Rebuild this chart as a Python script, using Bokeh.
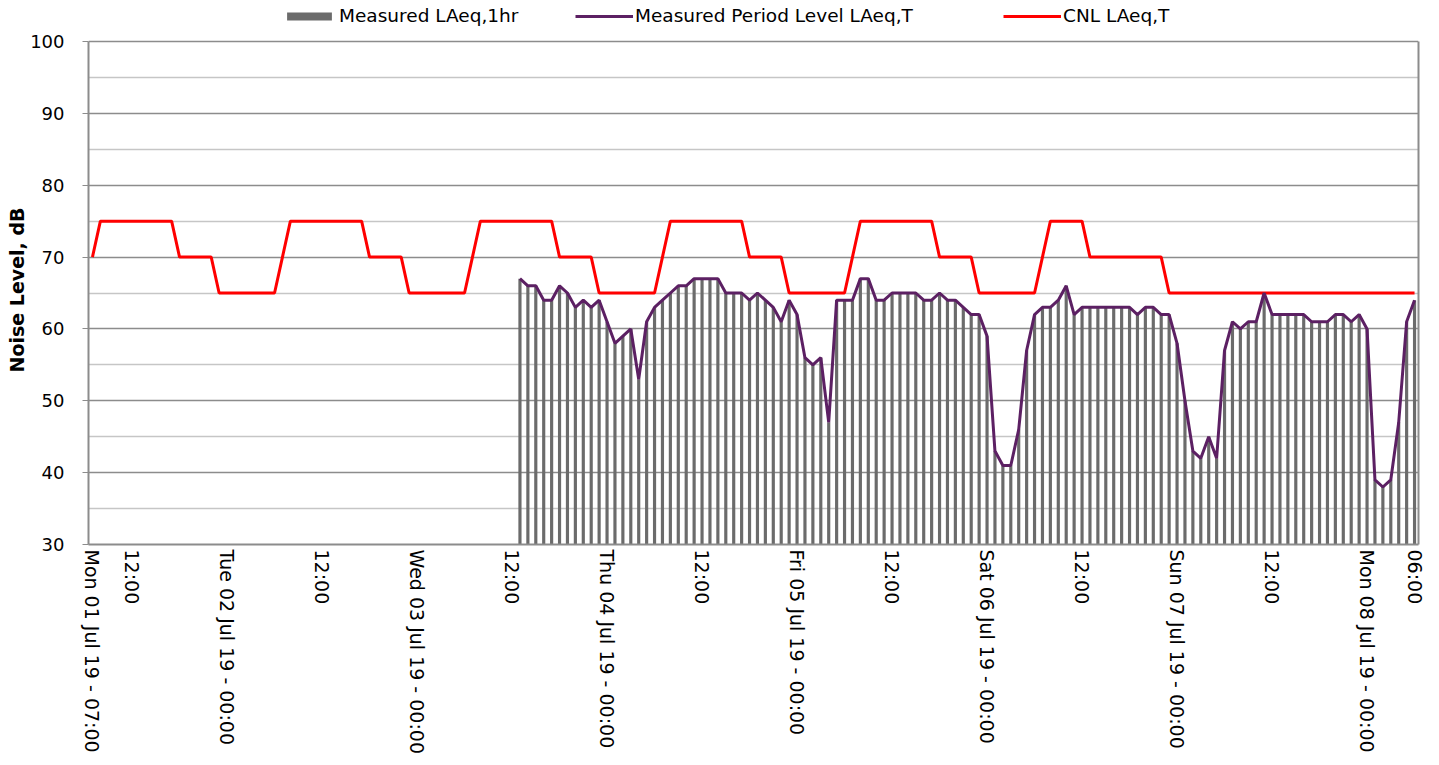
import math
from bokeh.plotting import figure
from bokeh.models import (ColumnDataSource, FixedTicker, Legend, LegendItem, Range1d,
                          LinearAxis, Title)
from bokeh.embed import file_html
from bokeh.resources import INLINE

# ---- data -------------------------------------------------------------
# hourly categories: Mon 01 Jul 19 07:00 (index 0) ... Mon 08 Jul 19 06:00 (index 167)
hour_index = list(range(168))

tick_idx = [0, 5, 17, 29, 41, 53, 65, 77, 89, 101, 113, 125, 137, 149, 161, 167]
tick_text = ["Mon 01 Jul 19 - 07:00", "12:00",
             "Tue 02 Jul 19 - 00:00", "12:00",
             "Wed 03 Jul 19 - 00:00", "12:00",
             "Thu 04 Jul 19 - 00:00", "12:00",
             "Fri 05 Jul 19 - 00:00", "12:00",
             "Sat 06 Jul 19 - 00:00", "12:00",
             "Sun 07 Jul 19 - 00:00", "12:00",
             "Mon 08 Jul 19 - 00:00", "06:00"]

y_ticks = [30, 40, 50, 60, 70, 80, 90, 100]
y_minor_ticks = [35, 45, 55, 65, 75, 85, 95]

cnl_laeq_t = [
    70, 75, 75, 75, 75, 75, 75, 75, 75, 75, 75, 70, 70, 70, 70, 70, 65, 65, 65, 65, 65, 65, 65, 65,
    70, 75, 75, 75, 75, 75, 75, 75, 75, 75, 75, 70, 70, 70, 70, 70, 65, 65, 65, 65, 65, 65, 65, 65,
    70, 75, 75, 75, 75, 75, 75, 75, 75, 75, 75, 70, 70, 70, 70, 70, 65, 65, 65, 65, 65, 65, 65, 65,
    70, 75, 75, 75, 75, 75, 75, 75, 75, 75, 75, 70, 70, 70, 70, 70, 65, 65, 65, 65, 65, 65, 65, 65,
    70, 75, 75, 75, 75, 75, 75, 75, 75, 75, 75, 70, 70, 70, 70, 70, 65, 65, 65, 65, 65, 65, 65, 65,
    70, 75, 75, 75, 75, 75, 70, 70, 70, 70, 70, 70, 70, 70, 70, 70, 65, 65, 65, 65, 65, 65, 65, 65,
    65, 65, 65, 65, 65, 65, 65, 65, 65, 65, 65, 65, 65, 65, 65, 65, 65, 65, 65, 65, 65, 65, 65, 65,
]

# measurements start at Wed 03 Jul 13:00 (index 54); earlier hours recorded as 0
measured_start = 54
measured_laeq_1hr = [
    67, 66, 66, 64, 64, 66, 65, 63, 64, 63, 64, 61, 58, 59, 60, 53, 61, 63, 64, 65,
    66, 66, 67, 67, 67, 67, 65, 65, 65, 64, 65, 64, 63, 61, 64, 62, 56, 55, 56, 47,
    64, 64, 64, 67, 67, 64, 64, 65, 65, 65, 65, 64, 64, 65, 64, 64, 63, 62, 62, 59,
    43, 41, 41, 46, 57, 62, 63, 63, 64, 66, 62, 63, 63, 63, 63, 63, 63, 63, 62, 63,
    63, 62, 62, 58, 50, 43, 42, 45, 42, 57, 61, 60, 61, 61, 65, 62, 62, 62, 62, 62,
    61, 61, 61, 62, 62, 61, 62, 60, 39, 38, 39, 47, 61, 64,
]

# ---- sources ----------------------------------------------------------
bar_top = [0] * measured_start + measured_laeq_1hr
line_vals = [float("nan")] * measured_start + measured_laeq_1hr
src = ColumnDataSource(dict(x=hour_index, bar=bar_top, period=line_vals, cnl=cnl_laeq_t))

FONT = "DejaVu Sans"
GRID = "#8c8c8c"

# frame extends above 100 dB to leave room for the legend row (axes are bounded to 30-100)
FRAME_H = 544
PX_PER_DB = 503 / 70.0
y_top = 30 + FRAME_H / PX_PER_DB

p = figure(width=1431, height=757,
           x_range=Range1d(-0.5, 167.5), y_range=Range1d(30, y_top),
           output_backend="svg", toolbar_location=None,
           min_border_left=88, min_border_right=13, min_border_top=0, min_border_bottom=213,
           background_fill_color="white", border_fill_color="white")

r_bar = p.vbar(x="x", top="bar", bottom=30, width=0.4, source=src,
               fill_color="#6b6b6b", line_color=None)
r_cnl = p.line("x", "cnl", source=src, line_color="#ff0000", line_width=3)
r_per = p.line("x", "period", source=src, line_color="#5c2063", line_width=3)

# x axis
p.xaxis.ticker = FixedTicker(ticks=tick_idx)
p.xaxis.major_label_overrides = {i: t for i, t in zip(tick_idx, tick_text)}
p.xaxis.major_label_orientation = "vertical"
p.xaxis.major_label_text_font = FONT
p.xaxis.major_label_text_font_size = "19px"
p.xaxis.major_label_text_color = "black"
p.xaxis.major_tick_out = 0
p.xaxis.major_tick_in = 0
p.xaxis.minor_tick_out = 0
p.xaxis.minor_tick_in = 0
p.xaxis.axis_line_color = GRID
p.xaxis.axis_line_width = 2
p.xaxis.major_label_standoff = 5

# y axis
p.yaxis.ticker = FixedTicker(ticks=y_ticks, minor_ticks=y_minor_ticks)
p.yaxis.bounds = (30, 100)
p.yaxis.major_label_text_font = FONT
p.yaxis.major_label_text_font_size = "18px"
p.yaxis.major_label_text_color = "black"
p.yaxis.major_tick_out = 6
p.yaxis.major_tick_in = 0
p.yaxis.minor_tick_out = 0
p.yaxis.minor_tick_in = 0
p.yaxis.major_tick_line_color = GRID
p.yaxis.axis_line_color = GRID
p.yaxis.axis_line_width = 2
p.yaxis.major_label_standoff = 18

# right-hand border of the plot area
right = LinearAxis(ticker=FixedTicker(ticks=[]), bounds=(30, 100),
                   axis_line_color=GRID, axis_line_width=2,
                   major_tick_out=0, major_tick_in=0, minor_tick_out=0, minor_tick_in=0,
                   major_label_text_alpha=0)
p.add_layout(right, "right")

# y axis title
ytitle = Title(text="Noise Level, dB", align="left", offset=172,
               text_font=FONT, text_font_size="19px", text_font_style="bold",
               text_color="black", standoff=0)
p.add_layout(ytitle, "left")

p.xgrid.grid_line_color = None
p.ygrid.ticker = FixedTicker(ticks=y_ticks, minor_ticks=y_minor_ticks)
p.ygrid.grid_line_color = GRID
p.ygrid.grid_line_width = 1.5
p.ygrid.minor_grid_line_color = "#c6c6c6"
p.ygrid.minor_grid_line_width = 1.5

p.outline_line_color = None

LEG_Y = FRAME_H - 26
legend_specs = [
    ("Measured LAeq,1hr", r_bar, 193, 56),
    ("Measured Period Level LAeq,T", r_per, 487, 58),
    ("CNL LAeq,T", r_cnl, 915, 58),
]
for label, rend, lx, gw in legend_specs:
    lg = Legend(items=[LegendItem(label=label, renderers=[rend])],
                orientation="horizontal", location=(lx, LEG_Y),
                glyph_width=gw, glyph_height=10, label_standoff=2,
                label_text_font=FONT, label_text_font_size="18.5px",
                label_text_color="black",
                padding=0, margin=0, border_line_color=None, background_fill_alpha=0)
    p.add_layout(lg, "center")

open("out.html", "w").write(file_html(p, INLINE))
